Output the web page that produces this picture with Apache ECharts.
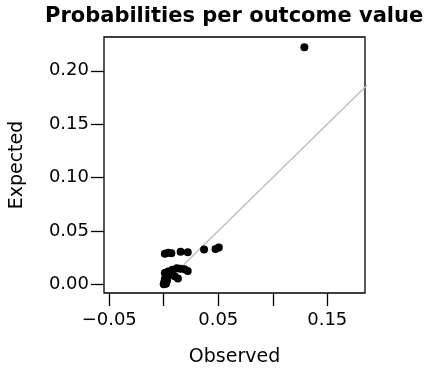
<!DOCTYPE html>
<html>
<head>
<meta charset="utf-8">
<script src="https://cdn.jsdelivr.net/npm/echarts@6/dist/echarts.min.js"></script>
<style>
  html, body { margin: 0; padding: 0; background: #fff; }
  #chart { width: 427px; height: 372px; }
</style>
</head>
<body>
<div id="chart"></div>
<script>
// Observed vs expected probability for each outcome value
const observed = [
  0.001, 0.004, 0.007, 0.0155, 0.022, 0.037, 0.0475, 0.0505,
  0.001, 0.004, 0.008, 0.012, 0.015, 0.019, 0.022,
  0.002, 0.006, 0.010, 0.013, 0.001, 0.003, 0.0005, 0.002, 0.000,
  0.129
];
const expected = [
  0.0285, 0.0295, 0.029, 0.0305, 0.030, 0.0325, 0.033, 0.0345,
  0.0105, 0.012, 0.0135, 0.015, 0.0145, 0.014, 0.0125,
  0.008, 0.009, 0.0075, 0.0055, 0.005, 0.0035, 0.002, 0.0005, 0.000,
  0.222
];
// Reference line y = x
const refLine = [[0, 0], [0.3, 0.3]];

const xTicks = [-0.05, 0, 0.05, 0.10, 0.15];
const xTickLabels = [-0.05, 0.05, 0.15];
const yTicks = [0, 0.05, 0.10, 0.15, 0.20];

const fmt = v => (v < 0 ? '\u2212' : '') + Math.abs(v).toFixed(2);
const FONT = 'DejaVu Sans';

const chart = echarts.init(document.getElementById('chart'), null, { renderer: 'canvas' });
chart.setOption({
  animation: false,
  backgroundColor: '#ffffff',
  title: {
    text: 'Probabilities per outcome value',
    left: 40,
    top: 1,
    textStyle: { fontFamily: FONT, fontWeight: 'bold', fontSize: 21, color: '#000' }
  },
  grid: {
    left: 103, top: 37, width: 262, height: 262,
    show: true, borderColor: '#000', borderWidth: 1.3, backgroundColor: 'transparent'
  },
  xAxis: {
    type: 'value',
    min: -0.0548, max: 0.1846,
    name: 'Observed',
    nameLocation: 'middle',
    nameGap: 55,
    nameTextStyle: { fontFamily: FONT, fontSize: 19, color: '#000' },
    axisLine: { show: false, onZero: false },
    splitLine: { show: false },
    axisTick: { show: true, length: 13, lineStyle: { color: '#000', width: 1.3 }, customValues: xTicks },
    axisLabel: {
      fontFamily: FONT, fontSize: 18, color: '#000', margin: 18,
      customValues: xTickLabels, formatter: fmt
    }
  },
  yAxis: {
    type: 'value',
    min: -0.0082, max: 0.2317,
    name: 'Expected',
    nameLocation: 'middle',
    nameGap: 77,
    nameTextStyle: { fontFamily: FONT, fontSize: 19, color: '#000' },
    axisLine: { show: false, onZero: false },
    splitLine: { show: false },
    axisTick: { show: true, length: 13, lineStyle: { color: '#000', width: 1.3 }, customValues: yTicks },
    axisLabel: {
      fontFamily: FONT, fontSize: 18, color: '#000', margin: 15,
      customValues: yTicks, formatter: fmt
    }
  },
  series: [
    {
      type: 'line',
      data: refLine,
      symbol: 'none',
      clip: true,
      lineStyle: { color: '#bebebe', width: 1.5 },
      z: 1
    },
    {
      type: 'scatter',
      data: observed.map((x, i) => [x, expected[i]]),
      symbol: 'circle',
      symbolSize: 8,
      itemStyle: { color: '#000', opacity: 1 },
      z: 2
    }
  ]
});
</script>
</body>
</html>
